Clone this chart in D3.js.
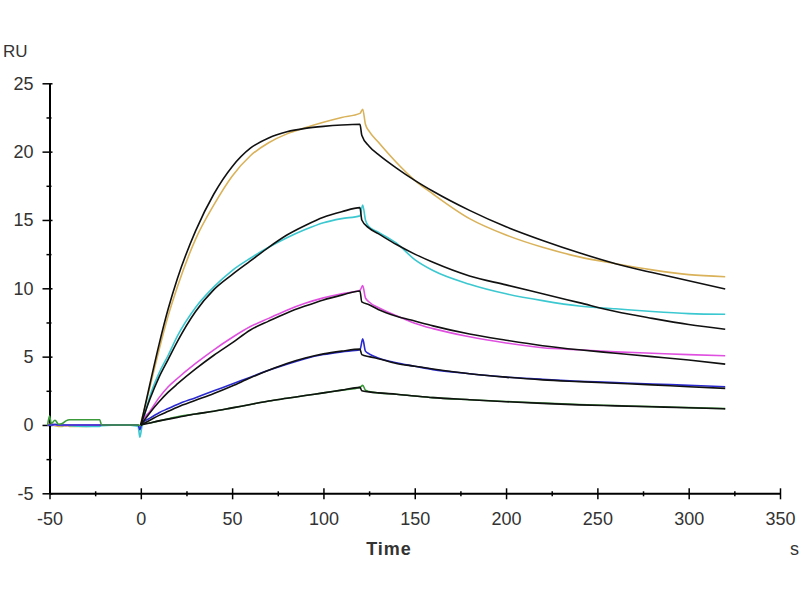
<!DOCTYPE html>
<html>
<head>
<meta charset="utf-8">
<script src="https://cdn.jsdelivr.net/npm/d3@7"></script>
<style>
  body { margin: 0; background: #fff; }
  svg text { font-family: "Liberation Sans", Arial, sans-serif; fill: #333; }
</style>
</head>
<body>
<div id="chart"></div>
<script>
// sample times of the measured curves (s)
const dataT = [-51, -50, -49, -47, -45, -43, -41, -39, -30, -22.5, -21.5, -10, -1.5, -0.5,
  0.5, 5, 10, 15, 20, 30, 40, 50, 60, 70, 80, 90, 100, 110, 120,
  121.5, 123, 125, 130, 140, 150, 160, 180, 200, 220, 240, 260, 280, 300, 320];
// sample times of the fitted curves (s)
const fitT = [0, 5, 10, 15, 20, 30, 40, 50, 60, 70, 80, 90, 100, 110, 120,
  121, 125, 130, 140, 150, 160, 180, 200, 220, 240, 260, 280, 300, 320];

// measured responses (RU)
const goldData = [0, 0.05, 0, -0.05, -0.1, -0.1, -0.05, -0.1, -0.1, -0.05, 0, 0, 0, -0.1,
  0.4, 2.8, 5.5, 8.0, 10.1, 13.6, 16.1, 18.2, 19.7, 20.65, 21.3, 21.75, 22.15, 22.5, 22.8,
  23.1, 22.0, 21.5, 20.7, 19.2, 17.9, 16.9, 15.1, 13.9, 13.0, 12.3, 11.8, 11.35, 11.0, 10.85];
const cyanData = [0, 0, 0, 0, 0, -0.05, 0, -0.05, -0.1, -0.1, -0.05, 0, -0.1, -0.9,
  -0.2, 2.1, 3.8, 5.1, 6.5, 8.6, 10.1, 11.3, 12.2, 13.0, 13.7, 14.3, 14.8, 15.1, 15.3,
  16.1, 15.0, 14.5, 14.1, 13.3, 12.1, 11.3, 10.3, 9.6, 9.1, 8.7, 8.5, 8.3, 8.15, 8.1];
const magentaData = [0, 0, 0.05, 0, 0, 0, -0.05, 0, 0, 0, 0, 0, 0, -0.15,
  0.2, 1.0, 2.0, 2.8, 3.4, 4.5, 5.5, 6.4, 7.2, 7.8, 8.4, 8.9, 9.3, 9.6, 9.85,
  10.2, 9.3, 9.0, 8.6, 8.0, 7.45, 7.05, 6.45, 6.0, 5.65, 5.5, 5.35, 5.25, 5.15, 5.07];
const blueData = [0, 0, 0, 0.05, 0, 0, 0, 0, 0, 0, 0, 0, 0, -0.35,
  0.1, 0.5, 0.9, 1.2, 1.5, 2.0, 2.5, 3.0, 3.5, 4.0, 4.45, 4.85, 5.15, 5.35, 5.5,
  6.3, 5.4, 5.2, 4.9, 4.55, 4.3, 4.05, 3.75, 3.5, 3.35, 3.2, 3.1, 3.0, 2.9, 2.8];
const greenData = [0, 0.65, 0.1, 0.35, 0.05, 0.1, 0.3, 0.38, 0.38, 0.38, 0, 0, 0, -0.05,
  0.1, 0.15, 0.3, 0.45, 0.6, 0.8, 1.0, 1.25, 1.5, 1.75, 1.95, 2.15, 2.35, 2.55, 2.75,
  2.9, 2.55, 2.45, 2.35, 2.25, 2.12, 2.0, 1.85, 1.72, 1.6, 1.5, 1.42, 1.34, 1.27, 1.2];

// fitted responses (RU)
const goldFit = [0, 3.0, 5.9, 8.5, 10.7, 14.2, 16.9, 18.9, 20.25, 21.0, 21.45, 21.7, 21.85, 21.95, 22.0,
  21.2, 20.4, 19.8, 18.8, 17.9, 17.1, 15.7, 14.5, 13.5, 12.6, 11.8, 11.15, 10.55, 9.95];
const cyanFit = [0, 1.9, 3.5, 4.8, 6.1, 8.3, 9.9, 11.0, 12.0, 13.0, 13.9, 14.6, 15.2, 15.6, 15.9,
  15.0, 14.4, 14.0, 13.2, 12.5, 11.9, 10.9, 10.25, 9.6, 8.95, 8.3, 7.8, 7.35, 7.0];
const magentaFit = [0, 0.9, 1.7, 2.4, 3.0, 4.1, 5.1, 6.0, 6.95, 7.6, 8.2, 8.7, 9.15, 9.5, 9.8,
  9.0, 8.8, 8.45, 7.95, 7.6, 7.25, 6.65, 6.2, 5.8, 5.5, 5.25, 5.0, 4.75, 4.45];
const blueFit = [0, 0.35, 0.7, 1.0, 1.3, 1.8, 2.3, 2.85, 3.45, 4.0, 4.5, 4.9, 5.2, 5.4, 5.55,
  5.15, 5.0, 4.85, 4.5, 4.3, 4.1, 3.75, 3.5, 3.3, 3.17, 3.05, 2.93, 2.8, 2.68];
const greenFit = [0, 0.15, 0.3, 0.43, 0.55, 0.8, 1.0, 1.25, 1.5, 1.75, 1.95, 2.15, 2.35, 2.55, 2.75,
  2.5, 2.42, 2.35, 2.25, 2.12, 2.0, 1.85, 1.7, 1.58, 1.47, 1.4, 1.33, 1.26, 1.18];

const xTicks = [-50, 0, 50, 100, 150, 200, 250, 300, 350];
const xMinor = [-25, 25, 75, 125, 175, 225, 275, 325];
const yTicks = [-5, 0, 5, 10, 15, 20, 25];
const yMinor = [-2.5, 2.5, 7.5, 12.5, 17.5, 22.5];

const series = [
  { data: goldData, fit: goldFit, color: "#d9b25a" },
  { data: cyanData, fit: cyanFit, color: "#3cc8d0" },
  { data: magentaData, fit: magentaFit, color: "#e050e0" },
  { data: blueData, fit: blueFit, color: "#2a2ad0" },
  { data: greenData, fit: greenFit, color: "#3a9a3a" }
];

const width = 800, height = 600;
const svg = d3.select("#chart").append("svg")
  .attr("width", width)
  .attr("height", height);

const x = d3.scaleLinear().domain([-50, 350]).range([49.5, 780]);
const y = d3.scaleLinear().domain([-5, 25]).range([493.3, 83.3]);

const line = d3.line()
  .x(d => x(d[0]))
  .y(d => y(d[1]))
  .curve(d3.curveMonotoneX);

// plain hyphen for negatives, as in the original
const fmt = d => String(d);

// minor ticks
svg.append("g")
  .attr("transform", "translate(" + x(-50) + ",0)")
  .call(d3.axisLeft(y).tickValues(yMinor).tickSize(3).tickSizeOuter(0).tickFormat(""))
  .call(g => g.select(".domain").remove())
  .call(g => g.selectAll(".tick line").attr("x1", 2).attr("stroke-width", 1.5));
svg.append("g")
  .attr("transform", "translate(0," + y(-5) + ")")
  .call(d3.axisBottom(x).tickValues(xMinor).tickSize(3).tickSizeOuter(0).tickFormat(""))
  .call(g => g.select(".domain").remove())
  .call(g => g.selectAll(".tick line").attr("y1", -2).attr("stroke-width", 1.5));

// major axes
const yAxis = svg.append("g")
  .attr("transform", "translate(" + x(-50) + ",0)")
  .call(d3.axisLeft(y).tickValues(yTicks).tickSize(7).tickSizeOuter(0).tickPadding(9).tickFormat(fmt));
yAxis.selectAll(".tick line").attr("x1", 3).attr("stroke-width", 1.5);
yAxis.select(".domain").attr("stroke-width", 2);
yAxis.selectAll(".tick text").style("font-size", "18px").attr("fill", "#333");

const xAxis = svg.append("g")
  .attr("transform", "translate(0," + y(-5) + ")")
  .call(d3.axisBottom(x).tickValues(xTicks).tickSize(6).tickSizeOuter(0).tickPadding(13).tickFormat(fmt));
xAxis.selectAll(".tick line").attr("y1", -5).attr("stroke-width", 1.5);
xAxis.select(".domain").attr("stroke-width", 2);
xAxis.selectAll(".tick text").style("font-size", "18px").attr("fill", "#333");

// measured curves
series.forEach(s => {
  svg.append("path")
    .datum(dataT.map((t, i) => [t, s.data[i]]))
    .attr("fill", "none")
    .attr("stroke", s.color)
    .attr("stroke-width", 1.6)
    .attr("d", line);
});

// fitted curves
series.forEach(s => {
  svg.append("path")
    .datum(fitT.map((t, i) => [t, s.fit[i]]))
    .attr("fill", "none")
    .attr("stroke", "#111")
    .attr("stroke-width", 1.6)
    .attr("d", line);
});

// labels
svg.append("text").attr("x", 3).attr("y", 56.5).text("RU").style("font-size", "17px");
svg.append("text").attr("x", 389).attr("y", 555).attr("text-anchor", "middle")
  .text("Time").style("font-size", "18px").style("font-weight", "bold")
  .style("letter-spacing", "1px").attr("fill", "#222");
svg.append("text").attr("x", 790).attr("y", 555).text("s").style("font-size", "18px");
</script>
</body>
</html>
